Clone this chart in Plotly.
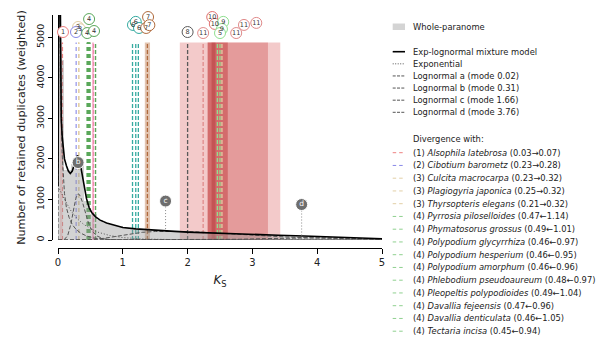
import plotly.graph_objects as go

# ---------------- data ----------------
# Whole-paranome histogram (bin width 0.1, Ks 0-5)
bin_width = 0.1
hist_vals = [4450, 1720, 1880, 1930, 960, 640, 495, 425, 370, 335,
             305, 290, 268, 252, 245, 232, 226, 214, 208, 199,
             193, 186, 181, 172, 169, 160, 156, 148, 146, 139,
             133, 129, 124, 118, 115, 108, 104, 98, 95, 88,
             84, 78, 71, 66, 61, 53, 49, 42, 37, 31]

# Exp-lognormal mixture model
mix_ks = [0.0, 0.005, 0.01, 0.02, 0.03, 0.04, 0.05, 0.065, 0.08, 0.1, 0.13, 0.16, 0.19, 0.22, 0.25,
          0.28, 0.30, 0.33, 0.36, 0.40, 0.44, 0.48, 0.52, 0.58, 0.65, 0.75, 0.85, 1.0, 1.2, 1.4,
          1.6, 1.8, 2.0, 2.3, 2.6, 3.0, 3.4, 3.8, 4.2, 4.6, 5.0]
mix_y = [1330, 4000, 7000, 9000, 7000, 4500, 3000, 2550, 2250, 2000, 1830, 1700, 1640, 1700, 1850,
         2010, 2085, 2000, 1750, 1350, 1020, 800, 680, 570, 490, 420, 370, 310, 275, 250,
         230, 212, 195, 175, 158, 138, 118, 100, 78, 55, 30]

exp_ks = [0.0, 0.1, 0.2, 0.3, 0.4, 0.5, 0.6, 0.8, 1.0, 1.3, 1.6, 2.0, 3.0, 5.0]
exp_y = [1330, 1000, 720, 520, 380, 280, 200, 110, 60, 25, 10, 4, 0, 0]

lna_ks = [0.0, 0.005, 0.01, 0.02, 0.03, 0.04, 0.05, 0.065, 0.08, 0.1, 0.13, 0.17, 0.22, 0.28,
          0.35, 0.44, 0.55, 0.7, 0.9, 1.2, 5.0]
lna_y = [0, 3000, 6000, 8000, 6200, 4200, 3000, 2100, 1600, 1150, 800, 560, 380, 260,
         170, 100, 50, 20, 5, 0, 0]

lnb_ks = [0.0, 0.05, 0.1, 0.15, 0.2, 0.25, 0.28, 0.31, 0.34, 0.38, 0.42, 0.46, 0.5, 0.55, 0.6,
          0.7, 0.8, 1.0, 5.0]
lnb_y = [0, 0, 15, 110, 400, 830, 1050, 1140, 1100, 920, 680, 470, 310, 180, 100,
         30, 8, 0, 0]

lnc_ks = [0.0, 0.3, 0.5, 0.7, 0.9, 1.1, 1.3, 1.5, 1.66, 1.9, 2.2, 2.6, 3.0, 3.5, 4.0, 4.5, 5.0]
lnc_y = [0, 0, 8, 40, 95, 150, 190, 210, 215, 210, 195, 160, 110, 75, 50, 32, 12]

lnd_ks = [0.0, 2.0, 2.4, 2.8, 3.2, 3.5, 3.76, 4.0, 4.4, 4.8, 5.0]
lnd_y = [0, 0, 5, 18, 35, 48, 55, 54, 46, 32, 24]

# component mode markers
mode_letters = ["b", "c", "d"]
mode_ks = [0.31, 1.66, 3.76]
mode_marker_y = [1910, 960, 875]
mode_drop_to = [None, 230, 65]

# divergence legend entries (visible part)
div_nums = [1, 2, 3, 3, 3, 4, 4, 4, 4, 4, 4, 4, 4, 4, 4]
div_species = ["Alsophila latebrosa", "Cibotium barometz", "Culcita macrocarpa",
               "Plagiogyria japonica", "Thyrsopteris elegans", "Pyrrosia piloselloides",
               "Phymatosorus grossus", "Polypodium glycyrrhiza", "Polypodium hesperium",
               "Polypodium amorphum", "Phlebodium pseudoaureum", "Pleopeltis polypodioides",
               "Davallia fejeensis", "Davallia denticulata", "Tectaria incisa"]
div_a = [0.03, 0.23, 0.23, 0.25, 0.21, 0.47, 0.49, 0.46, 0.46, 0.46, 0.48, 0.49, 0.47, 0.46, 0.45]
div_b = [0.07, 0.28, 0.32, 0.32, 0.32, 1.14, 1.01, 0.97, 0.95, 0.96, 0.97, 1.04, 0.96, 1.05, 0.94]
div_arrow = ["→", "→", "→", "→", "→", "←", "←", "←", "←", "←", "←", "←", "←", "←", "←"]

group_colors = {1: "#ee8080", 2: "#8888e8", 3: "#e2cfa6", 4: "#5aa85a", 5: "#8fe08f",
                6: "#35aaa0", 7: "#b06a3c", 8: "#5a5a5a", 9: "#8fe08f", 10: "#e07070",
                11: "#e08a8a", 12: "#f08cb0"}

# further divergence lines (entries beyond the visible legend)
extra_ks = [0.55, 0.58, 1.15, 1.20, 1.24, 1.38, 2.00, 2.24, 2.46, 2.50, 2.53]
extra_grp = [12, 4, 6, 6, 6, 7, 8, 11, 9, 5, 3]

# confidence bands
band_lo = [0.03, 0.525, 1.34, 1.88, 2.31, 2.31, 2.37]
band_hi = [0.07, 0.555, 1.42, 3.43, 3.24, 2.62, 2.43]
band_col = ["rgba(240,128,128,0.35)", "rgba(240,120,165,0.55)", "rgba(190,125,80,0.45)",
            "rgba(215,80,80,0.30)", "rgba(200,70,70,0.35)", "rgba(190,50,50,0.45)",
            "rgba(170,40,40,0.35)"]
band_top = 4870

# numbered circles above the divergence lines
circ_ks = [0.077, 0.31, 0.34, 0.278, 0.45, 0.556, 0.48, 0.57, 1.157, 1.20, 1.25, 1.39, 1.36, 1.41,
           2.0, 2.24, 2.38, 2.42, 2.55, 2.53, 2.50, 2.75, 2.87, 3.06]
circ_val = [5130, 5255, 5200, 5130, 5105, 5155, 5450, 5560, 5305, 5380, 5230, 5500, 5230, 5300,
            5130, 5105, 5500, 5330, 5380, 5205, 5105, 5105, 5305, 5355]
circ_txt = ["1", "3", "3", "2", "4", "4", "4", "4", "6", "6", "6", "7", "7", "7",
            "8", "11", "10", "10", "9", "9", "5", "11", "11", "11"]
circ_grp = [1, 3, 3, 2, 4, 4, 4, 12, 6, 6, 6, 7, 7, 7, 8, 11, 10, 10, 9, 9, 5, 11, 11, 11]

x_ticks = [0, 1, 2, 3, 4, 5]
y_ticks = [0, 1000, 2000, 3000, 4000, 5000]

# ---------------- layout geometry ----------------
W, H = 605, 338
ML, MR, MT, MB = 52, 223, 10, 90
PW = W - ML - MR
PH = H - MT - MB


def pxx(px):
    return (px - ML) / PW


def pxy(py):
    return (H - MB - py) / PH


FONT = "DejaVu Sans"
fig = go.Figure()

shapes = []
# bands
for lo, hi, col in zip(band_lo, band_hi, band_col):
    shapes.append(dict(type="rect", xref="x", yref="y", x0=lo, x1=hi, y0=0, y1=band_top,
                       fillcolor=col, line=dict(width=0), layer="below"))
# divergence lines (visible legend entries: line at arrow target)
for n, a, b, ar in zip(div_nums, div_a, div_b, div_arrow):
    ks = b if ar == "→" else a
    shapes.append(dict(type="line", xref="x", yref="y", x0=ks, x1=ks, y0=0, y1=band_top,
                       line=dict(color=group_colors[n], width=1.5 if n == 4 else 1.1,
                                 dash="4px,3px"), layer="below"))
for ks, g in zip(extra_ks, extra_grp):
    shapes.append(dict(type="line", xref="x", yref="y", x0=ks, x1=ks, y0=0, y1=band_top,
                       line=dict(color=group_colors[g], width=1.3, dash="4px,2px"), layer="below"))

# histogram
fig.add_trace(go.Bar(x=[bin_width * (i + 0.5) for i in range(len(hist_vals))], y=hist_vals,
                     width=bin_width, marker=dict(color="rgba(150,150,150,0.42)", line=dict(width=0)),
                     showlegend=False, hoverinfo="skip"))

comp_line = dict(color="#555555", width=1, dash="4px,2px")
for xs, ys in [(lna_ks, lna_y), (lnb_ks, lnb_y), (lnc_ks, lnc_y), (lnd_ks, lnd_y)]:
    fig.add_trace(go.Scatter(x=xs, y=ys, mode="lines", line=comp_line, showlegend=False,
                             hoverinfo="skip"))
fig.add_trace(go.Scatter(x=exp_ks, y=exp_y, mode="lines",
                         line=dict(color="#555555", width=1, dash="1px,2px"),
                         showlegend=False, hoverinfo="skip"))
fig.add_trace(go.Scatter(x=mix_ks, y=mix_y, mode="lines", line=dict(color="black", width=1.6),
                         showlegend=False, hoverinfo="skip"))

# drop lines from mode markers
for ks, y0, y1 in zip(mode_ks, mode_marker_y, mode_drop_to):
    if y1 is not None:
        fig.add_trace(go.Scatter(x=[ks, ks], y=[y0, y1], mode="lines",
                                 line=dict(color="#888888", width=1, dash="1px,2px"),
                                 showlegend=False, hoverinfo="skip"))
fig.add_trace(go.Scatter(x=mode_ks, y=mode_marker_y, mode="markers+text", text=mode_letters,
                         textposition="middle center",
                         textfont=dict(family=FONT, size=7.5, color="white"),
                         marker=dict(size=12, color="#6e6e6e", line=dict(color="white", width=1)),
                         showlegend=False, hoverinfo="skip", cliponaxis=False))

# numbered circles
fig.add_trace(go.Scatter(x=circ_ks, y=circ_val, mode="markers+text", text=circ_txt,
                         textposition="middle center",
                         textfont=dict(family=FONT, size=6.5, color="#333333"),
                         marker=dict(size=11, color="white",
                                     line=dict(color=[group_colors[g] for g in circ_grp], width=1)),
                         showlegend=False, hoverinfo="skip", cliponaxis=False))

# ---------------- manual legend ----------------
annotations = []
LX0, LX1, TX = 392.7, 405, 411
LFS = 8.35


def legend_text(py, txt):
    annotations.append(dict(xref="paper", yref="paper", x=pxx(TX), y=pxy(py), text=txt,
                            showarrow=False, xanchor="left", yanchor="middle",
                            font=dict(family=FONT, size=LFS, color="#222222")))


def legend_line(py, color, width, dash):
    shapes.append(dict(type="line", xref="paper", yref="paper", x0=pxx(LX0), x1=pxx(LX1),
                       y0=pxy(py), y1=pxy(py), line=dict(color=color, width=width, dash=dash)))


shapes.append(dict(type="rect", xref="paper", yref="paper", x0=pxx(LX0), x1=pxx(LX1),
                   y0=pxy(30), y1=pxy(23.5), fillcolor="#d4d4d4", line=dict(width=0)))
legend_text(26.7, "Whole-paranome")

model_labels = ["Exp-lognormal mixture model", "Exponential", "Lognormal a (mode 0.02)",
                "Lognormal b (mode 0.31)", "Lognormal c (mode 1.66)", "Lognormal d (mode 3.76)"]
for i, lab in enumerate(model_labels):
    py = 51.7 + 12.12 * i
    if i == 0:
        legend_line(py, "black", 1.6, "solid")
    elif i == 1:
        legend_line(py, "#555555", 1, "1px,1.5px")
    else:
        legend_line(py, "#555555", 1, "3px,1.3px")
    legend_text(py, lab)

legend_text(139, "Divergence with:")
for i, (n, sp, a, b, ar) in enumerate(zip(div_nums, div_species, div_a, div_b, div_arrow)):
    py = 152.7 + 12.75 * i
    legend_line(py, group_colors[n] if n != 4 else "#8fd08f", 1, "3.5px,3px")
    legend_text(py, f"({n}) <i>{sp}</i> ({a:.2f}{ar}{b:.2f})")

fig.update_layout(
    width=W, height=H, margin=dict(l=ML, r=MR, t=MT, b=MB, autoexpand=False),
    paper_bgcolor="white", plot_bgcolor="white", barmode="overlay", bargap=0,
    font=dict(family=FONT, size=10, color="#222222"),
    shapes=shapes, annotations=annotations,
    xaxis=dict(domain=[pxx(58), 1], range=[0, 5], anchor="free", position=0,
               showline=True, linecolor="black", linewidth=1.2, ticks="outside", ticklen=5,
               tickwidth=1.2, tickcolor="black", tickvals=x_ticks, showgrid=False, zeroline=False,
               tickfont=dict(size=10),
               title=dict(text="<i>K</i><sub>S</sub>", font=dict(size=12), standoff=8)),
    yaxis=dict(domain=[pxy(240), pxy(15)], range=[0, 5550], anchor="free", position=0,
               showline=True, linecolor="black", linewidth=1.2, ticks="outside", ticklen=4,
               tickwidth=1.2, tickcolor="black", tickvals=y_ticks, tickangle=-90,
               showgrid=False, zeroline=False, tickfont=dict(size=9.5),
               title=dict(text="Number of retained duplicates (weighted)", font=dict(size=11.2),
                          standoff=6)),
)

fig.write_html("out.html")
